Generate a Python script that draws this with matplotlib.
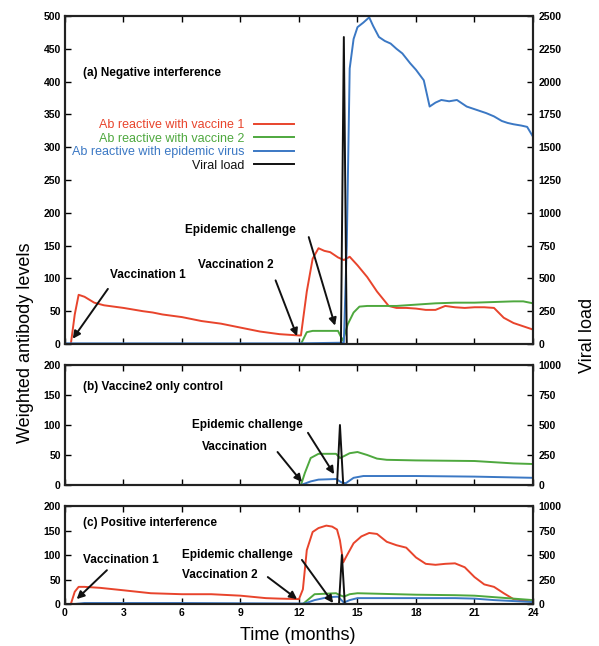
import matplotlib
matplotlib.use("Agg")
import matplotlib.pyplot as plt

plt.rcParams['font.family'] = ['Liberation Sans', 'DejaVu Sans']

RED = '#e8442c'
GREEN = '#4ea83e'
BLUE = '#3b78c4'
BLACK = '#111111'

# ---------------- data: panel (a) negative interference ----------------
a_red_t = [0, 0.3, 0.5, 0.7, 1.0, 1.5, 2.0, 3.0, 4.0, 4.5, 5.0, 6.0, 7.0, 8.0, 9.0, 10.0, 11.0, 12.0,
           12.1, 12.4, 12.7, 13.0, 13.3, 13.6, 14.0, 14.3, 14.6, 15.0, 15.5, 16.0, 16.6, 17.0, 17.5,
           18.0, 18.5, 19.0, 19.5, 20.0, 20.5, 21.0, 21.5, 22.0, 22.5, 23.0, 23.5, 24.0]
a_red_v = [0, 0, 45, 75, 72, 63, 59, 55, 50, 48, 45, 41, 35, 31, 25, 19, 15, 13,
           13, 80, 130, 146, 142, 140, 132, 128, 133, 120, 102, 80, 58, 55, 55,
           54, 52, 52, 58, 56, 55, 56, 56, 55, 40, 32, 27, 22]
a_green_t = [0, 12.1, 12.4, 12.7, 14.0, 14.25, 14.5, 14.8, 15.1, 15.5, 16, 17, 18, 19, 20, 21, 22, 23, 23.5, 24]
a_green_v = [0, 0, 18, 20, 20, 5, 30, 48, 57, 58, 58, 58, 60, 62, 63, 63, 64, 65, 65, 62]
a_blue_t = [0, 12, 14.3, 14.45, 14.6, 14.8, 15.0, 15.3, 15.6, 15.8, 16.1, 16.4, 16.7, 17.0, 17.3, 17.7,
            18.0, 18.4, 18.7, 19.0, 19.3, 19.7, 20.1, 20.6, 21.0, 21.3, 21.6, 22.0, 22.4, 22.7, 23.0,
            23.4, 23.7, 24.0]
a_blue_v = [1, 1, 2, 150, 420, 465, 483, 490, 498, 485, 468, 462, 458, 450, 443, 428,
            418, 402, 362, 368, 372, 370, 372, 362, 358, 355, 352, 347, 340, 337, 335,
            333, 331, 316]
a_viral_t = [14.15, 14.3, 14.45]
a_viral_v = [0, 2340, 0]

# ---------------- data: panel (b) vaccine2 only control ----------------
b_green_t = [0, 12.1, 12.3, 12.6, 13.0, 13.9, 14.1, 14.3, 14.6, 15.0, 15.5, 16.0, 16.5, 18, 21, 22, 23, 24]
b_green_v = [0, 0, 20, 45, 52, 52, 45, 48, 53, 55, 50, 44, 42, 41, 40, 38, 36, 35]
b_blue_t = [0, 12.1, 12.6, 13.0, 13.9, 14.2, 14.4, 14.8, 15.3, 16, 18, 21, 24]
b_blue_v = [0, 0, 6, 9, 10, 4, 3, 12, 15, 15, 15, 14, 12]
b_viral_t = [13.95, 14.1, 14.27]
b_viral_v = [0, 500, 0]

# ---------------- data: panel (c) positive interference ----------------
c_red_t = [0, 0.3, 0.5, 0.7, 1.0, 1.8, 3.0, 4.4, 6.0, 7.5, 9.0, 10.3, 11.0, 12.0, 12.2, 12.4, 12.7,
           13.0, 13.4, 13.7, 13.95, 14.1, 14.27, 14.4, 14.8, 15.2, 15.6, 16.0, 16.5, 17.0, 17.5,
           18.0, 18.5, 19.0, 19.5, 20.0, 20.5, 21.0, 21.5, 22.0, 22.5, 23.0, 23.5, 24.0]
c_red_v = [0, 0, 25, 35, 35, 33, 28, 22, 20, 20, 17, 12, 11, 10, 30, 110, 147,
           155, 160, 158, 152, 130, 85, 95, 124, 138, 145, 143, 127, 120, 115,
           95, 82, 80, 82, 83, 75, 55, 40, 35, 22, 10, 7, 5]
c_green_t = [0, 12.2, 12.5, 12.8, 13.9, 14.1, 14.3, 14.6, 15.0, 16, 18, 20, 21, 22, 23, 24]
c_green_v = [0, 0, 10, 20, 22, 18, 15, 20, 22, 21, 19, 18, 17, 14, 11, 8]
c_blue_t = [0, 0.5, 1.0, 6, 12, 12.3, 12.8, 13.5, 14.0, 14.3, 14.6, 15.0, 16, 18, 20, 21, 22, 23, 24]
c_blue_v = [0, 0, 2, 2, 1, 1, 8, 14, 15, 3, 8, 12, 12, 12, 12, 11, 8, 6, 4]
c_viral_t = [14.05, 14.2, 14.35]
c_viral_v = [0, 500, 0]

x_ticks = [0, 3, 6, 9, 12, 15, 18, 21, 24]
a_left_ticks = [0, 50, 100, 150, 200, 250, 300, 350, 400, 450, 500]
a_right_ticks = [0, 250, 500, 750, 1000, 1250, 1500, 1750, 2000, 2250, 2500]
bc_left_ticks = [0, 50, 100, 150, 200]
bc_right_ticks = [0, 250, 500, 750, 1000]

legend_labels = ['Ab reactive with vaccine 1', 'Ab reactive with vaccine 2',
                 'Ab reactive with epidemic virus', 'Viral load']

# ---------------- figure ----------------
fig = plt.figure(figsize=(5.99, 6.46), dpi=100)
L, W = 0.1085, 0.7813
axA = fig.add_axes([L, 0.4675, W, 0.5077])
axB = fig.add_axes([L, 0.2492, W, 0.1858])
axC = fig.add_axes([L, 0.0650, W, 0.1517])

LW = 1.4
TICKFS = 7.5
ANNFS = 8.5

def style(ax, ax2, lticks, rticks, lmax, rmax, show_x):
    ax.set_xlim(0, 24)
    ax.set_ylim(0, lmax)
    ax2.set_ylim(0, rmax)
    ax.set_xticks(x_ticks)
    ax.set_yticks(lticks)
    ax2.set_yticks(rticks)
    ax.tick_params(axis='both', direction='in', length=4.5, width=1.0, top=True,
                   labelsize=TICKFS, pad=3)
    ax2.tick_params(axis='y', direction='in', length=4.5, width=1.0, labelsize=TICKFS, pad=4)
    for lab in ax.get_xticklabels() + ax.get_yticklabels() + ax2.get_yticklabels():
        lab.set_fontweight('bold')
    if not show_x:
        ax.set_xticklabels([])
    for a in (ax, ax2):
        for s in a.spines.values():
            s.set_linewidth(1.5)
            s.set_color('#222222')

def arrow(ax, tip, tail):
    ax.annotate('', xy=tip, xytext=tail,
                arrowprops=dict(arrowstyle='-|>', color=BLACK, lw=1.4,
                                mutation_scale=11, shrinkA=0, shrinkB=0))

# panel (a)
axA2 = axA.twinx()
hr, = axA.plot(a_red_t, a_red_v, color=RED, lw=LW)
hg, = axA.plot(a_green_t, a_green_v, color=GREEN, lw=LW)
hb, = axA.plot(a_blue_t, a_blue_v, color=BLUE, lw=LW)
hk, = axA2.plot(a_viral_t, a_viral_v, color=BLACK, lw=LW)
style(axA, axA2, a_left_ticks, a_right_ticks, 500, 2500, False)
axA.text(0.92, 413, '(a) Negative interference', fontsize=ANNFS, fontweight='bold', va='center')
axA.text(2.3, 105, 'Vaccination 1', fontsize=ANNFS, fontweight='bold', va='center')
axA.text(6.8, 120, 'Vaccination 2', fontsize=ANNFS, fontweight='bold', va='center')
axA.text(6.15, 174, 'Epidemic challenge', fontsize=ANNFS, fontweight='bold', va='center')
arrow(axA, (0.4, 8), (2.2, 84))
arrow(axA, (11.9, 12), (10.8, 97))
arrow(axA, (13.85, 28), (12.5, 163))
leg = axA.legend([hr, hg, hb, hk], legend_labels, loc='upper right',
                 bbox_to_anchor=(0.49, 0.685), markerfirst=False, frameon=False,
                 fontsize=9, handlelength=3.2, handletextpad=0.8, labelspacing=0.12,
                 borderaxespad=0, borderpad=0)
for txt, c in zip(leg.get_texts(), [RED, GREEN, BLUE, BLACK]):
    txt.set_color(c)

# panel (b)
axB2 = axB.twinx()
axB.plot(b_green_t, b_green_v, color=GREEN, lw=LW)
axB.plot(b_blue_t, b_blue_v, color=BLUE, lw=LW)
axB2.plot(b_viral_t, b_viral_v, color=BLACK, lw=LW)
style(axB, axB2, bc_left_ticks, bc_right_ticks, 200, 1000, False)
axB.text(0.92, 163, '(b) Vaccine2 only control', fontsize=ANNFS, fontweight='bold', va='center')
axB.text(6.5, 100, 'Epidemic challenge', fontsize=ANNFS, fontweight='bold', va='center')
axB.text(7.0, 63, 'Vaccination', fontsize=ANNFS, fontweight='bold', va='center')
arrow(axB, (13.8, 18), (12.46, 87))
arrow(axB, (12.15, 5), (10.9, 55))

# panel (c)
axC2 = axC.twinx()
axC.plot(c_red_t, c_red_v, color=RED, lw=LW)
axC.plot(c_green_t, c_green_v, color=GREEN, lw=LW)
axC.plot(c_blue_t, c_blue_v, color=BLUE, lw=LW)
axC2.plot(c_viral_t, c_viral_v, color=BLACK, lw=LW)
style(axC, axC2, bc_left_ticks, bc_right_ticks, 200, 1000, True)
axC.text(0.92, 165, '(c) Positive interference', fontsize=ANNFS, fontweight='bold', va='center')
axC.text(0.92, 90, 'Vaccination 1', fontsize=ANNFS, fontweight='bold', va='center')
axC.text(6.0, 100, 'Epidemic challenge', fontsize=ANNFS, fontweight='bold', va='center')
axC.text(6.0, 59, 'Vaccination 2', fontsize=ANNFS, fontweight='bold', va='center')
arrow(axC, (0.6, 10), (2.15, 69))
arrow(axC, (13.75, 2), (12.15, 90))
arrow(axC, (11.9, 10), (10.4, 55))

fig.text(0.042, 0.47, 'Weighted antibody levels', rotation=90, fontsize=13,
         ha='center', va='center')
fig.text(0.98, 0.481, 'Viral load', rotation=90, fontsize=13, ha='center', va='center')
fig.text(0.497, 0.017, 'Time (months)', fontsize=13, ha='center', va='center')

fig.savefig('out.png', dpi=100)
